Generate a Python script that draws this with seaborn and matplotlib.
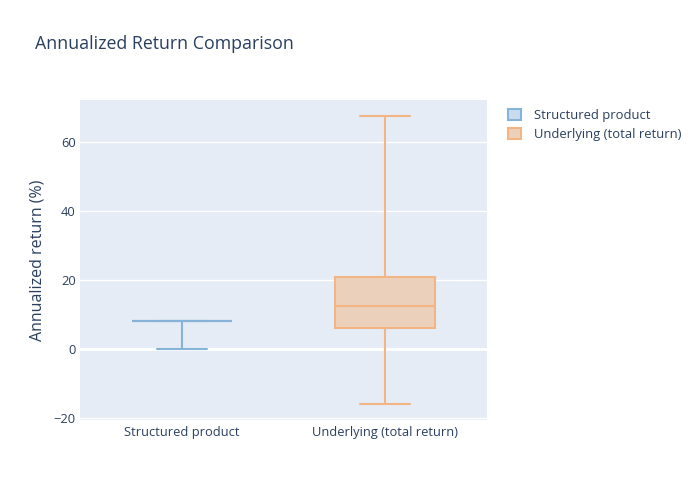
import pandas as pd
import matplotlib.pyplot as plt
import seaborn as sns
from matplotlib.patches import Patch

# data (five-number summaries per series)
categories = ["Structured product", "Underlying (total return)"]
structured_values = [0.0, 8.0, 8.0, 8.0, 8.0]
underlying_values = [-16.0, 6.0, 12.5, 21.0, 67.5]

line_colors = ["#85b4d8", "#f4b584"]
fill_colors = ["#c9dbee", "#ebd1bc"]
text_color = "#2a3f5f"
bg_color = "#e5ecf6"

df = pd.DataFrame({
    "series": [categories[0]] * len(structured_values) + [categories[1]] * len(underlying_values),
    "value": structured_values + underlying_values,
})

sns.set_theme(style="darkgrid")
plt.rcParams["font.family"] = ["Open Sans", "DejaVu Sans"]

fig = plt.figure(figsize=(7, 5), dpi=100)
ax = fig.add_axes([80 / 700, 80 / 500, 407 / 700, 320 / 500])
ax.set_facecolor(bg_color)

for i, cat in enumerate(categories):
    sns.boxplot(
        data=df[df["series"] == cat],
        x="series",
        y="value",
        order=categories,
        color=fill_colors[i],
        linecolor=line_colors[i],
        linewidth=1.5,
        saturation=1,
        width=0.49,
        whis=(0, 100),
        legend=False,
        ax=ax,
        zorder=3,
    )

ax.set_xlim(-0.5, 1.5)
ax.set_ylim(-20.6, 72.2)
ax.set_yticks([-20, 0, 20, 40, 60])
ax.grid(axis="y", color="white", linewidth=1)
ax.grid(axis="x", visible=False)
ax.axhline(0, color="white", linewidth=2, zorder=1)
for s in ax.spines.values():
    s.set_visible(False)
ax.tick_params(axis="both", length=0, labelsize=9.3, labelcolor=text_color)
ax.tick_params(axis="y", pad=3)
ax.tick_params(axis="x", pad=4)
ax.set_xlabel("")
ax.set_ylabel("Annualized return (%)", fontsize=11.5, color=text_color, labelpad=6)

fig.text(35 / 700, 1 - 44 / 500, "Annualized Return Comparison",
         fontsize=12.8, color=text_color, va="center", ha="left")

handles = [Patch(facecolor=fill_colors[i], edgecolor=line_colors[i], linewidth=1.5, label=c)
           for i, c in enumerate(categories)]
leg = fig.legend(handles=handles, loc="upper left", bbox_to_anchor=(503 / 700, 1 - 104 / 500),
                 frameon=False, fontsize=9.4, handlelength=0.95, handleheight=0.95,
                 handletextpad=1.0, labelspacing=0.45, borderaxespad=0)
for t in leg.get_texts():
    t.set_color(text_color)

fig.savefig("out.png", dpi=100, facecolor="white")
